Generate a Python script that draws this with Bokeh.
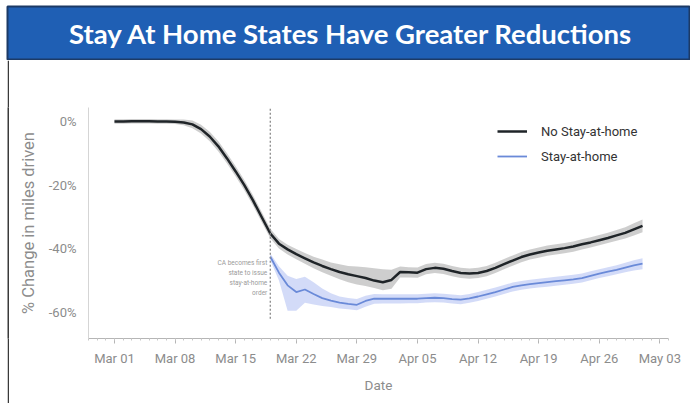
import pandas as pd
from bokeh.plotting import figure
from bokeh.layouts import column, row
from bokeh.models import (ColumnDataSource, Range1d, FixedTicker, DatetimeTickFormatter,
                          PrintfTickFormatter, Legend, LegendItem, Label, Spacer)
from bokeh.core.properties import value
from bokeh.embed import file_html
from bokeh.resources import INLINE

# ---------------- data ----------------
title_text = "Stay At Home States Have Greater Reductions"
series_names = ["No Stay-at-home", "Stay-at-home"]

no_sah_start = "2020-03-01"
no_sah = [0.0, 0.0, 0.1, 0.1, 0.1, 0.0, 0.0, -0.1, -0.3, -0.9,
          -2.4, -4.7, -7.8, -11.6, -15.7, -20.0, -24.8, -30.0, -35.2, -38.4,
          -40.2, -41.7, -43.0, -44.3, -45.4, -46.4, -47.3, -48.0, -48.6, -49.2,
          -50.0, -50.5, -49.8, -47.3, -47.4, -47.5, -46.4, -46.0, -46.3, -47.0,
          -47.6, -47.8, -47.6, -47.0, -46.0, -44.8, -43.7, -42.6, -41.8, -41.2,
          -40.6, -40.2, -39.8, -39.3, -38.6, -38.0, -37.3, -36.6, -35.8, -35.0,
          -33.9, -32.8]
no_sah_hi = [0.7, 0.7, 0.8, 0.8, 0.8, 0.7, 0.7, 0.6, 0.6, 0.3,
             -1.0, -3.2, -6.2, -10.0, -14.1, -18.4, -23.2, -28.4, -33.7, -36.9,
             -38.7, -40.1, -41.3, -42.5, -43.4, -44.3, -44.9, -45.4, -45.6, -45.8,
             -46.1, -46.4, -46.6, -45.6, -45.8, -45.9, -44.8, -44.4, -44.7, -45.4,
             -46.0, -46.2, -46.0, -45.4, -44.4, -43.2, -42.1, -41.0, -40.2, -39.6,
             -39.0, -38.6, -38.2, -37.7, -37.0, -36.4, -35.7, -35.0, -34.1, -33.2,
             -32.0, -30.8]
no_sah_lo = [-0.7, -0.7, -0.6, -0.6, -0.6, -0.7, -0.7, -0.8, -1.2, -2.1,
             -3.8, -6.2, -9.4, -13.2, -17.3, -21.6, -26.4, -31.6, -36.7, -39.9,
             -41.8, -43.3, -44.7, -46.1, -47.4, -48.5, -49.6, -50.5, -51.2, -51.7,
             -52.3, -53.0, -52.6, -49.0, -49.0, -49.1, -48.0, -47.6, -47.9, -48.6,
             -49.2, -49.4, -49.2, -48.6, -47.6, -46.4, -45.3, -44.2, -43.4, -42.8,
             -42.2, -41.8, -41.4, -40.9, -40.2, -39.6, -38.9, -38.2, -37.5, -36.8,
             -35.8, -34.8]

sah_start = "2020-03-19"
sah = [-42.5, -47.5, -51.5, -53.6, -52.8, -54.2, -55.5, -56.3, -56.9, -57.3,
       -57.6, -56.4, -55.7, -55.7, -55.7, -55.7, -55.7, -55.7, -55.5, -55.4,
       -55.5, -55.8, -56.0, -55.6, -55.0, -54.3, -53.6, -52.8, -52.0, -51.5,
       -51.1, -50.8, -50.5, -50.2, -49.9, -49.6, -49.2, -48.5, -47.8, -47.2,
       -46.6, -45.9, -45.2, -44.7]
sah_hi = [-41.5, -45.5, -48.5, -49.5, -48.8, -50.5, -52.5, -54.0, -55.0, -55.5,
          -55.8, -54.8, -54.2, -54.3, -54.3, -54.3, -54.3, -54.3, -54.1, -54.0,
          -54.1, -54.4, -54.6, -54.2, -53.6, -52.9, -52.2, -51.4, -50.6, -50.1,
          -49.7, -49.4, -49.1, -48.8, -48.5, -48.2, -47.8, -47.1, -46.4, -45.8,
          -45.2, -44.4, -43.6, -43.0]
sah_lo = [-43.5, -50.0, -59.5, -59.5, -57.0, -57.5, -58.0, -58.3, -58.8, -59.0,
          -59.3, -58.2, -57.3, -57.2, -57.2, -57.2, -57.1, -57.1, -56.9, -56.8,
          -56.9, -57.2, -57.4, -57.0, -56.4, -55.7, -55.0, -54.2, -53.4, -52.9,
          -52.5, -52.2, -51.9, -51.6, -51.3, -51.0, -50.6, -49.9, -49.2, -48.6,
          -48.0, -47.4, -46.8, -46.4]

event_date = "2020-03-19"
event_text = "CA becomes first\nstate to issue\nstay-at-home\norder"
event_line_top = 4.0
event_line_bottom = -62.5
event_text_y = -43.3

y_ticks = [0, -20, -40, -60]
x_tick_dates = pd.date_range("2020-03-01", "2020-05-03", freq="7D")
x_minor_dates = pd.date_range("2020-02-27", "2020-05-04", freq="D")
x_start, x_end = "2020-02-27", "2020-05-04"
y_min, y_max = -68.2, 4.4

# ---------------- sources ----------------
no_dates = pd.date_range(no_sah_start, periods=len(no_sah), freq="D")
sah_dates = pd.date_range(sah_start, periods=len(sah), freq="D")
src_no = ColumnDataSource(dict(x=no_dates, y=no_sah, hi=no_sah_hi, lo=no_sah_lo))
src_sah = ColumnDataSource(dict(x=sah_dates, y=sah, hi=sah_hi, lo=sah_lo))

FONT = "Roboto"

# ---------------- header ----------------
hdr = figure(width=690, height=60, x_range=(0, 1), y_range=(0, 1),
             toolbar_location=None, output_backend="svg",
             min_border_top=6, min_border_left=7, min_border_right=1, min_border_bottom=0,
             x_axis_location=None, y_axis_location=None,
             background_fill_color="#1f5fb4", border_fill_color="white",
             outline_line_color="#1c3a66", outline_line_width=2)
hdr.grid.visible = False
hdr.add_layout(Label(x=0.504, y=0.5, text=title_text, text_align="center",
                     text_baseline="middle", text_color="white",
                     text_font="Lato", text_font_style="bold", text_font_size="27.5px"))

# ---------------- left border ----------------
pad = Spacer(width=7, height=343)
edge = figure(width=2, height=343, toolbar_location=None, output_backend="svg",
              min_border=0, x_axis_location=None, y_axis_location=None,
              background_fill_color="#3a3a3a", border_fill_color="#3a3a3a",
              outline_line_color=None)
edge.grid.visible = False

# ---------------- main chart ----------------
p = figure(width=681, height=343, toolbar_location=None, output_backend="svg",
           x_axis_type="datetime",
           x_range=Range1d(pd.Timestamp(x_start), pd.Timestamp(x_end)),
           y_range=Range1d(y_min, y_max),
           min_border_left=79, min_border_right=22, min_border_top=47, min_border_bottom=65,
           background_fill_color="white", border_fill_color="white",
           outline_line_color=None)
p.grid.visible = False

p.varea(x="x", y1="lo", y2="hi", source=src_no, fill_color="#bdbdbd", fill_alpha=0.75)
p.varea(x="x", y1="lo", y2="hi", source=src_sah, fill_color="#c8d2f6", fill_alpha=0.8)
r_no = p.line(x="x", y="y", source=src_no, line_color="#1f2428", line_width=2.5)
r_sah = p.line(x="x", y="y", source=src_sah, line_color="#6a8ad8", line_width=1.8)

ev = pd.Timestamp(event_date)
p.segment(x0=[ev], y0=[event_line_top], x1=[ev], y1=[event_line_bottom],
          line_color="#8a8a8a", line_width=1.3, line_dash="2 2")
p.text(x=[ev], y=[event_text_y], text=[event_text], text_align="right",
       text_baseline="top", x_offset=-3, text_font=value(FONT),
       text_font_size="6.5px", text_color="#9a9a9a", text_line_height=1.25)

# axes
major_ms = [t.value / 1e6 for t in x_tick_dates]
minor_ms = [t.value / 1e6 for t in x_minor_dates]
p.xaxis.ticker = FixedTicker(ticks=major_ms, minor_ticks=minor_ms)
fmt = "%b %d"
p.xaxis.formatter = DatetimeTickFormatter(days=fmt, months=fmt, hours=fmt, years=fmt)
p.xaxis.axis_label = "Date"
p.xaxis.axis_line_color = "#b5b5b5"
p.xaxis.major_tick_line_color = "#b5b5b5"
p.xaxis.major_tick_out = 5
p.xaxis.major_tick_in = 0
p.xaxis.minor_tick_line_color = "#c8c8c8"
p.xaxis.minor_tick_out = 2
p.xaxis.minor_tick_in = 0
p.xaxis.major_label_standoff = 7
p.xaxis.axis_label_standoff = 8

p.yaxis.ticker = FixedTicker(ticks=y_ticks)
p.yaxis.formatter = PrintfTickFormatter(format="%d%%")
p.yaxis.axis_label = "% Change in miles driven"
p.yaxis.axis_line_color = "#d5d5d5"
p.yaxis.major_tick_line_color = None
p.yaxis.minor_tick_line_color = None
p.yaxis.major_label_standoff = 6
p.yaxis.axis_label_standoff = 8

for ax in (p.xaxis, p.yaxis):
    ax.major_label_text_font = FONT
    ax.major_label_text_color = "#8c8c8c"
    ax.axis_label_text_font = FONT
    ax.axis_label_text_font_style = "normal"
    ax.axis_label_text_color = "#8c8c8c"
p.xaxis.major_label_text_font_size = "13px"
p.xaxis.axis_label_text_font_size = "13.5px"
p.yaxis.axis_label_text_font_size = "16.5px"
p.yaxis.major_label_text_font_size = "13px"

legend = Legend(items=[LegendItem(label=series_names[0], renderers=[r_no]),
                       LegendItem(label=series_names[1], renderers=[r_sah])],
                location=(409, 172), padding=0, margin=0, spacing=5,
                glyph_width=30, glyph_height=20, label_height=20, label_standoff=14,
                label_text_font=FONT, label_text_font_size="13px",
                label_text_color="#333333", background_fill_alpha=0,
                border_line_color=None)
p.add_layout(legend)

layout = column(hdr, row(pad, edge, p))
open("out.html", "w").write(file_html(layout, INLINE))
